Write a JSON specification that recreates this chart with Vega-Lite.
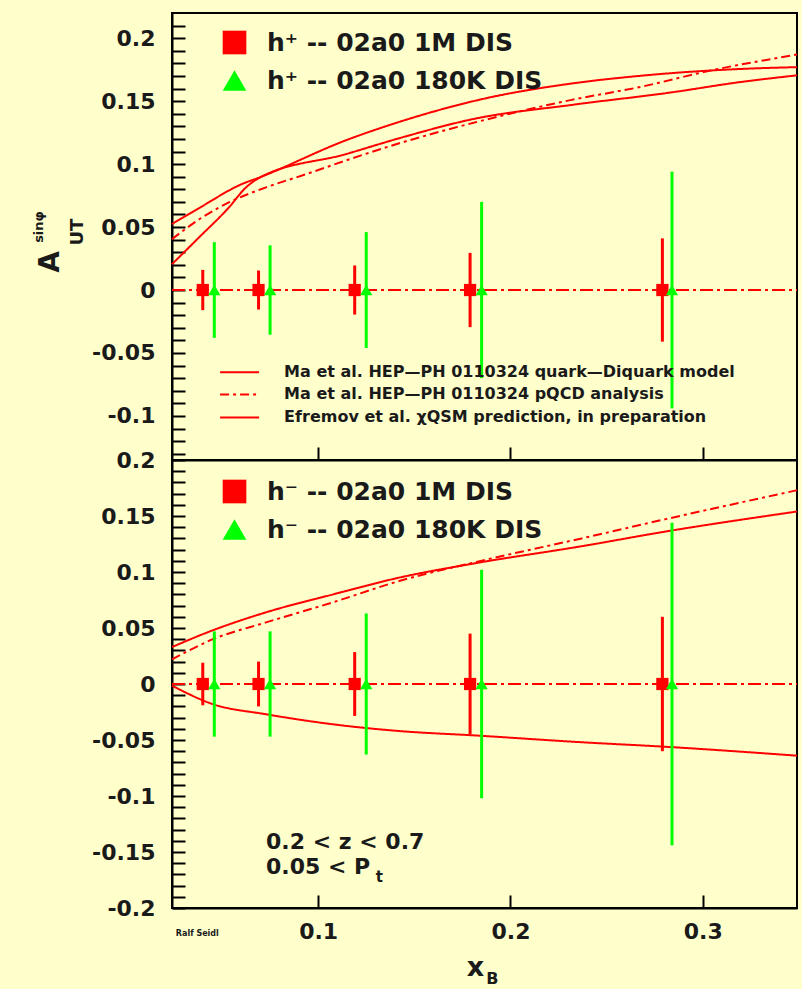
{
  "$schema": "https://vega.github.io/schema/vega-lite/v6.json",
  "background": "#FFFFCC",
  "padding": {"left": 31, "top": 12, "right": 4, "bottom": 0},
  "spacing": 0,
  "bounds": "flush",
  "config": {
    "view": {"stroke": "#000000", "strokeWidth": 2},
    "axis": {"domainColor": "#000000", "domainWidth": 2, "tickColor": "#000000", "tickWidth": 2, "grid": false, "labelFont": "DejaVu Sans", "labelFontWeight": "bold", "labelFontSize": 22, "labelColor": "#1a1a1a", "labelOverlap": false, "labelFlush": false, "title": null},
    "legend": {"labelFont": "DejaVu Sans", "labelFontWeight": "bold", "labelColor": "#1a1a1a", "labelLimit": 900, "padding": 0, "title": null},
    "text": {"font": "DejaVu Sans", "fontWeight": "bold", "color": "#1a1a1a"}
  },
  "resolve": {
    "scale": {"x": "independent", "y": "independent", "color": "independent", "shape": "independent", "stroke": "independent", "strokeDash": "independent"},
    "legend": {"color": "independent", "shape": "independent", "stroke": "independent", "strokeDash": "independent"}
  },
  "datasets": {
    "topCurves": [
      {"model": "Efremov et al. χQSM prediction, in preparation", "x": 0.024, "y": 0.0524},
      {"model": "Efremov et al. χQSM prediction, in preparation", "x": 0.038, "y": 0.065},
      {"model": "Efremov et al. χQSM prediction, in preparation", "x": 0.0609, "y": 0.0845},
      {"model": "Efremov et al. χQSM prediction, in preparation", "x": 0.0688, "y": 0.089},
      {"model": "Efremov et al. χQSM prediction, in preparation", "x": 0.1146, "y": 0.119},
      {"model": "Efremov et al. χQSM prediction, in preparation", "x": 0.1432, "y": 0.134},
      {"model": "Efremov et al. χQSM prediction, in preparation", "x": 0.1864, "y": 0.152},
      {"model": "Efremov et al. χQSM prediction, in preparation", "x": 0.2318, "y": 0.164},
      {"model": "Efremov et al. χQSM prediction, in preparation", "x": 0.2667, "y": 0.170},
      {"model": "Efremov et al. χQSM prediction, in preparation", "x": 0.3188, "y": 0.1755},
      {"model": "Efremov et al. χQSM prediction, in preparation", "x": 0.349, "y": 0.177},
      {"model": "Ma et al. HEP—PH 0110324 pQCD  analysis", "x": 0.024, "y": 0.0404},
      {"model": "Ma et al. HEP—PH 0110324 pQCD  analysis", "x": 0.038, "y": 0.056},
      {"model": "Ma et al. HEP—PH 0110324 pQCD  analysis", "x": 0.0536, "y": 0.0696},
      {"model": "Ma et al. HEP—PH 0110324 pQCD  analysis", "x": 0.0729, "y": 0.0815},
      {"model": "Ma et al. HEP—PH 0110324 pQCD  analysis", "x": 0.0938, "y": 0.092},
      {"model": "Ma et al. HEP—PH 0110324 pQCD  analysis", "x": 0.1146, "y": 0.103},
      {"model": "Ma et al. HEP—PH 0110324 pQCD  analysis", "x": 0.1432, "y": 0.117},
      {"model": "Ma et al. HEP—PH 0110324 pQCD  analysis", "x": 0.1813, "y": 0.133},
      {"model": "Ma et al. HEP—PH 0110324 pQCD  analysis", "x": 0.2318, "y": 0.151},
      {"model": "Ma et al. HEP—PH 0110324 pQCD  analysis", "x": 0.2667, "y": 0.161},
      {"model": "Ma et al. HEP—PH 0110324 pQCD  analysis", "x": 0.3047, "y": 0.1745},
      {"model": "Ma et al. HEP—PH 0110324 pQCD  analysis", "x": 0.349, "y": 0.187},
      {"model": "Ma et al. HEP—PH 0110324 quark—Diquark model", "x": 0.024, "y": 0.0205},
      {"model": "Ma et al. HEP—PH 0110324 quark—Diquark model", "x": 0.038, "y": 0.0417},
      {"model": "Ma et al. HEP—PH 0110324 quark—Diquark model", "x": 0.0536, "y": 0.0656},
      {"model": "Ma et al. HEP—PH 0110324 quark—Diquark model", "x": 0.0625, "y": 0.0815},
      {"model": "Ma et al. HEP—PH 0110324 quark—Diquark model", "x": 0.0693, "y": 0.089},
      {"model": "Ma et al. HEP—PH 0110324 quark—Diquark model", "x": 0.1146, "y": 0.108},
      {"model": "Ma et al. HEP—PH 0110324 quark—Diquark model", "x": 0.1432, "y": 0.121},
      {"model": "Ma et al. HEP—PH 0110324 quark—Diquark model", "x": 0.1813, "y": 0.136},
      {"model": "Ma et al. HEP—PH 0110324 quark—Diquark model", "x": 0.2318, "y": 0.147},
      {"model": "Ma et al. HEP—PH 0110324 quark—Diquark model", "x": 0.2839, "y": 0.157},
      {"model": "Ma et al. HEP—PH 0110324 quark—Diquark model", "x": 0.3188, "y": 0.165},
      {"model": "Ma et al. HEP—PH 0110324 quark—Diquark model", "x": 0.349, "y": 0.1705}
    ],
    "botCurves": [
      {"model": "quark-diquark", "x": 0.024, "y": 0.033},
      {"model": "quark-diquark", "x": 0.0453, "y": 0.048},
      {"model": "quark-diquark", "x": 0.0729, "y": 0.064},
      {"model": "quark-diquark", "x": 0.1078, "y": 0.080},
      {"model": "quark-diquark", "x": 0.1422, "y": 0.095},
      {"model": "quark-diquark", "x": 0.1823, "y": 0.108},
      {"model": "quark-diquark", "x": 0.237, "y": 0.123},
      {"model": "quark-diquark", "x": 0.2802, "y": 0.136},
      {"model": "quark-diquark", "x": 0.349, "y": 0.154},
      {"model": "pQCD", "x": 0.024, "y": 0.022},
      {"model": "pQCD", "x": 0.0453, "y": 0.040},
      {"model": "pQCD", "x": 0.0729, "y": 0.055},
      {"model": "pQCD", "x": 0.1078, "y": 0.073},
      {"model": "pQCD", "x": 0.1422, "y": 0.092},
      {"model": "pQCD", "x": 0.1823, "y": 0.109},
      {"model": "pQCD", "x": 0.237, "y": 0.130},
      {"model": "pQCD", "x": 0.2802, "y": 0.147},
      {"model": "pQCD", "x": 0.349, "y": 0.173},
      {"model": "chiQSM", "x": 0.024, "y": -0.0015},
      {"model": "chiQSM", "x": 0.0453, "y": -0.018},
      {"model": "chiQSM", "x": 0.0729, "y": -0.027},
      {"model": "chiQSM", "x": 0.1078, "y": -0.036},
      {"model": "chiQSM", "x": 0.1422, "y": -0.042},
      {"model": "chiQSM", "x": 0.1823, "y": -0.046},
      {"model": "chiQSM", "x": 0.237, "y": -0.052},
      {"model": "chiQSM", "x": 0.2802, "y": -0.056},
      {"model": "chiQSM", "x": 0.349, "y": -0.064}
    ],
    "topPoints": [
      {"series": "h⁺ -- 02a0 1M DIS", "x": 0.040, "y": 0, "lo": -0.016, "hi": 0.016},
      {"series": "h⁺ -- 02a0 1M DIS", "x": 0.069, "y": 0, "lo": -0.0155, "hi": 0.0155},
      {"series": "h⁺ -- 02a0 1M DIS", "x": 0.119, "y": 0, "lo": -0.0195, "hi": 0.0195},
      {"series": "h⁺ -- 02a0 1M DIS", "x": 0.179, "y": 0, "lo": -0.0295, "hi": 0.0295},
      {"series": "h⁺ -- 02a0 1M DIS", "x": 0.279, "y": 0, "lo": -0.041, "hi": 0.041},
      {"series": "h⁺ -- 02a0 180K DIS", "x": 0.046, "y": 0, "lo": -0.038, "hi": 0.038},
      {"series": "h⁺ -- 02a0 180K DIS", "x": 0.075, "y": 0, "lo": -0.0355, "hi": 0.0355},
      {"series": "h⁺ -- 02a0 180K DIS", "x": 0.125, "y": 0, "lo": -0.046, "hi": 0.046},
      {"series": "h⁺ -- 02a0 180K DIS", "x": 0.185, "y": 0, "lo": -0.070, "hi": 0.070},
      {"series": "h⁺ -- 02a0 180K DIS", "x": 0.284, "y": 0, "lo": -0.094, "hi": 0.094}
    ],
    "botPoints": [
      {"series": "h⁻ -- 02a0 1M DIS", "x": 0.040, "y": 0, "lo": -0.019, "hi": 0.019},
      {"series": "h⁻ -- 02a0 1M DIS", "x": 0.069, "y": 0, "lo": -0.020, "hi": 0.020},
      {"series": "h⁻ -- 02a0 1M DIS", "x": 0.119, "y": 0, "lo": -0.0285, "hi": 0.0285},
      {"series": "h⁻ -- 02a0 1M DIS", "x": 0.179, "y": 0, "lo": -0.045, "hi": 0.045},
      {"series": "h⁻ -- 02a0 1M DIS", "x": 0.279, "y": 0, "lo": -0.060, "hi": 0.060},
      {"series": "h⁻ -- 02a0 180K DIS", "x": 0.046, "y": 0, "lo": -0.047, "hi": 0.047},
      {"series": "h⁻ -- 02a0 180K DIS", "x": 0.075, "y": 0, "lo": -0.047, "hi": 0.047},
      {"series": "h⁻ -- 02a0 180K DIS", "x": 0.125, "y": 0, "lo": -0.063, "hi": 0.063},
      {"series": "h⁻ -- 02a0 180K DIS", "x": 0.185, "y": 0, "lo": -0.102, "hi": 0.102},
      {"series": "h⁻ -- 02a0 180K DIS", "x": 0.284, "y": 0, "lo": -0.144, "hi": 0.144}
    ]
  },
  "vconcat": [
    {
      "width": 625,
      "height": 447,
      "layer": [
        {
          "data": {"values": [{}]},
          "mark": {"type": "rule", "color": "#ff0000", "strokeWidth": 2, "strokeDash": [13, 4, 3, 4]},
          "encoding": {
            "x": {"datum": 0.024, "type": "quantitative", "scale": {"domain": [0.024, 0.349], "nice": false, "zero": false},
              "axis": {"values": [0.1, 0.2, 0.3], "labels": false, "tickSize": -13, "tickCount": 50, "labelOverlap": false, "encode": {"ticks": {"y2": {"value": -13}}}}},
            "x2": {"datum": 0.349},
            "y": {"datum": 0, "type": "quantitative", "scale": {"domain": [-0.135, 0.22], "nice": false, "zero": false},
              "axis": {
                "values": [-0.13,-0.12,-0.11,-0.1,-0.09,-0.08,-0.07,-0.06,-0.05,-0.04,-0.03,-0.02,-0.01,0,0.01,0.02,0.03,0.04,0.05,0.06,0.07,0.08,0.09,0.1,0.11,0.12,0.13,0.14,0.15,0.16,0.17,0.18,0.19,0.2,0.21],
                "tickCount": 200, "tickSize": -13, "labelPadding": 30, "labelOverlap": false, "labelFlush": false,
                "labelExpr": "round(datum.value*100) % 5 === 0 ? replace(format(datum.value, '.2~f'), '−', '-') : ''",
                "encode": {"ticks": {"x2": {"value": {"expr": "round(datum.value*100) % 5 === 0 ? 13 : 7"}}}}
              }
            }
          }
        },
        {
          "data": {"name": "topCurves"},
          "mark": {"type": "line", "color": "#ff0000", "strokeWidth": 2, "interpolate": "monotone"},
          "encoding": {
            "x": {"field": "x", "type": "quantitative"},
            "y": {"field": "y", "type": "quantitative"},
            "strokeDash": {"field": "model", "type": "nominal",
              "scale": {"domain": ["Ma et al. HEP—PH 0110324 quark—Diquark model", "Ma et al. HEP—PH 0110324 pQCD  analysis", "Efremov et al. χQSM prediction, in preparation"], "range": [[1, 0], [9, 4, 3, 4], [1, 0]]},
              "legend": null
            }
          }
        },
        {
          "data": {"name": "topPoints"},
          "mark": {"type": "point", "filled": true, "size": 150, "opacity": 1},
          "encoding": {
            "x": {"field": "x", "type": "quantitative"},
            "y": {"field": "y", "type": "quantitative"},
            "color": {"field": "series", "type": "nominal", "scale": {"domain": ["h⁺ -- 02a0 1M DIS", "h⁺ -- 02a0 180K DIS"], "range": ["#ff0000", "#00ff00"]},
              "legend": {"orient": "none", "legendX": 50, "legendY": 17, "symbolSize": 560, "labelFontSize": 25, "labelOffset": 20, "rowPadding": 12, "symbolStrokeWidth": 0}},
            "shape": {"field": "series", "type": "nominal", "scale": {"domain": ["h⁺ -- 02a0 1M DIS", "h⁺ -- 02a0 180K DIS"], "range": ["square", "triangle-up"]},
              "legend": {"orient": "none", "legendX": 50, "legendY": 17, "symbolSize": 560, "labelFontSize": 25, "labelOffset": 20, "rowPadding": 12, "symbolStrokeWidth": 0}}
          }
        },
        {
          "data": {"name": "topPoints"},
          "mark": {"type": "rule", "strokeWidth": 3},
          "encoding": {
            "x": {"field": "x", "type": "quantitative"},
            "y": {"field": "lo", "type": "quantitative"},
            "y2": {"field": "hi"},
            "stroke": {"field": "series", "type": "nominal", "scale": {"domain": ["h⁺ -- 02a0 1M DIS", "h⁺ -- 02a0 180K DIS"], "range": ["#ff0000", "#00ff00"]}, "legend": null}
          }
        },
        {
          "data": {"values": [{}]},
          "mark": {"type": "rule", "color": "#ff0000", "strokeWidth": 2},
          "encoding": {"x": {"datum": 0.049, "type": "quantitative"}, "x2": {"datum": 0.0693}, "y": {"datum": -0.0653, "type": "quantitative"}}
        },
        {
          "data": {"values": [{}]},
          "mark": {"type": "rule", "color": "#ff0000", "strokeWidth": 2, "strokeDash": [9, 4, 3, 4]},
          "encoding": {"x": {"datum": 0.049, "type": "quantitative"}, "x2": {"datum": 0.0693}, "y": {"datum": -0.0829, "type": "quantitative"}}
        },
        {
          "data": {"values": [{}]},
          "mark": {"type": "rule", "color": "#ff0000", "strokeWidth": 2},
          "encoding": {"x": {"datum": 0.049, "type": "quantitative"}, "x2": {"datum": 0.0693}, "y": {"datum": -0.1012, "type": "quantitative"}}
        },
        {
          "data": {"values": [{}]},
          "mark": {"type": "text", "text": "Ma et al. HEP—PH 0110324 quark—Diquark model", "fontSize": 16, "align": "left", "baseline": "middle"},
          "encoding": {"x": {"datum": 0.0823, "type": "quantitative"}, "y": {"datum": -0.0653, "type": "quantitative"}}
        },
        {
          "data": {"values": [{}]},
          "mark": {"type": "text", "text": "Ma et al. HEP—PH 0110324 pQCD  analysis", "fontSize": 16, "align": "left", "baseline": "middle"},
          "encoding": {"x": {"datum": 0.0823, "type": "quantitative"}, "y": {"datum": -0.0829, "type": "quantitative"}}
        },
        {
          "data": {"values": [{}]},
          "mark": {"type": "text", "text": "Efremov et al. χQSM prediction, in preparation", "fontSize": 16, "align": "left", "baseline": "middle"},
          "encoding": {"x": {"datum": 0.0823, "type": "quantitative"}, "y": {"datum": -0.1012, "type": "quantitative"}}
        },
        {
          "data": {"values": [{}]},
          "mark": {"type": "text", "text": "A", "angle": 270, "fontSize": 28, "align": "center", "baseline": "middle"},
          "encoding": {"x": {"datum": -0.039, "type": "quantitative"}, "y": {"datum": 0.0223, "type": "quantitative"}}
        },
        {
          "data": {"values": [{}]},
          "mark": {"type": "text", "text": "UT", "angle": 270, "fontSize": 18, "align": "center", "baseline": "middle"},
          "encoding": {"x": {"datum": -0.025, "type": "quantitative"}, "y": {"datum": 0.046, "type": "quantitative"}}
        },
        {
          "data": {"values": [{}]},
          "mark": {"type": "text", "text": "sinφ", "angle": 270, "fontSize": 13, "align": "center", "baseline": "middle"},
          "encoding": {"x": {"datum": -0.0453, "type": "quantitative"}, "y": {"datum": 0.050, "type": "quantitative"}}
        }
      ]
    },
    {
      "width": 625,
      "height": 448,
      "layer": [
        {
          "data": {"values": [{}]},
          "mark": {"type": "rule", "color": "#ff0000", "strokeWidth": 2, "strokeDash": [13, 4, 3, 4]},
          "encoding": {
            "x": {"datum": 0.024, "type": "quantitative", "scale": {"domain": [0.024, 0.349], "nice": false, "zero": false},
              "axis": {"values": [0.1, 0.2, 0.3], "tickSize": -13, "tickCount": 50, "labelPadding": 26, "labelOverlap": false, "labelFlush": false, "labelExpr": "format(datum.value, '.1f')", "encode": {"ticks": {"y2": {"value": -13}}}}},
            "x2": {"datum": 0.349},
            "y": {"datum": 0, "type": "quantitative", "scale": {"domain": [-0.2, 0.2], "nice": false, "zero": false},
              "axis": {
                "values": [-0.2,-0.19,-0.18,-0.17,-0.16,-0.15,-0.14,-0.13,-0.12,-0.11,-0.1,-0.09,-0.08,-0.07,-0.06,-0.05,-0.04,-0.03,-0.02,-0.01,0,0.01,0.02,0.03,0.04,0.05,0.06,0.07,0.08,0.09,0.1,0.11,0.12,0.13,0.14,0.15,0.16,0.17,0.18,0.19,0.2],
                "tickCount": 200, "tickSize": -13, "labelPadding": 30, "labelOverlap": false, "labelFlush": false,
                "labelExpr": "round(datum.value*100) % 5 === 0 ? replace(format(datum.value, '.2~f'), '−', '-') : ''",
                "encode": {"ticks": {"x2": {"value": {"expr": "round(datum.value*100) % 5 === 0 ? 13 : 7"}}}}
              }
            }
          }
        },
        {
          "data": {"name": "botCurves"},
          "mark": {"type": "line", "color": "#ff0000", "strokeWidth": 2, "interpolate": "monotone"},
          "encoding": {
            "x": {"field": "x", "type": "quantitative"},
            "y": {"field": "y", "type": "quantitative"},
            "strokeDash": {"field": "model", "type": "nominal",
              "scale": {"domain": ["quark-diquark", "pQCD", "chiQSM"], "range": [[1, 0], [9, 4, 3, 4], [1, 0]]},
              "legend": null
            }
          }
        },
        {
          "data": {"name": "botPoints"},
          "mark": {"type": "point", "filled": true, "size": 150, "opacity": 1},
          "encoding": {
            "x": {"field": "x", "type": "quantitative"},
            "y": {"field": "y", "type": "quantitative"},
            "color": {"field": "series", "type": "nominal", "scale": {"domain": ["h⁻ -- 02a0 1M DIS", "h⁻ -- 02a0 180K DIS"], "range": ["#ff0000", "#00ff00"]},
              "legend": {"orient": "none", "legendX": 50, "legendY": 19, "symbolSize": 560, "labelFontSize": 25, "labelOffset": 20, "rowPadding": 12, "symbolStrokeWidth": 0}},
            "shape": {"field": "series", "type": "nominal", "scale": {"domain": ["h⁻ -- 02a0 1M DIS", "h⁻ -- 02a0 180K DIS"], "range": ["square", "triangle-up"]},
              "legend": {"orient": "none", "legendX": 50, "legendY": 19, "symbolSize": 560, "labelFontSize": 25, "labelOffset": 20, "rowPadding": 12, "symbolStrokeWidth": 0}}
          }
        },
        {
          "data": {"name": "botPoints"},
          "mark": {"type": "rule", "strokeWidth": 3},
          "encoding": {
            "x": {"field": "x", "type": "quantitative"},
            "y": {"field": "lo", "type": "quantitative"},
            "y2": {"field": "hi"},
            "stroke": {"field": "series", "type": "nominal", "scale": {"domain": ["h⁻ -- 02a0 1M DIS", "h⁻ -- 02a0 180K DIS"], "range": ["#ff0000", "#00ff00"]}, "legend": null}
          }
        },
        {
          "data": {"values": [{}]},
          "mark": {"type": "text", "text": "0.2 < z < 0.7", "fontSize": 22, "align": "left", "baseline": "middle"},
          "encoding": {"x": {"datum": 0.0729, "type": "quantitative"}, "y": {"datum": -0.141, "type": "quantitative"}}
        },
        {
          "data": {"values": [{}]},
          "mark": {"type": "text", "text": "0.05 < P", "fontSize": 22, "align": "left", "baseline": "middle"},
          "encoding": {"x": {"datum": 0.0729, "type": "quantitative"}, "y": {"datum": -0.163, "type": "quantitative"}}
        },
        {
          "data": {"values": [{}]},
          "mark": {"type": "text", "text": "t", "fontSize": 15, "align": "left", "baseline": "middle"},
          "encoding": {"x": {"datum": 0.13, "type": "quantitative"}, "y": {"datum": -0.172, "type": "quantitative"}}
        },
        {
          "data": {"values": [{}]},
          "mark": {"type": "text", "text": "Ralf Seidl", "fontSize": 8, "align": "left", "baseline": "middle"},
          "encoding": {"x": {"datum": 0.026, "type": "quantitative"}, "y": {"datum": -0.2232, "type": "quantitative"}}
        },
        {
          "data": {"values": [{}]},
          "mark": {"type": "text", "text": "x", "fontSize": 27, "align": "center", "baseline": "middle"},
          "encoding": {"x": {"datum": 0.1818, "type": "quantitative"}, "y": {"datum": -0.2535, "type": "quantitative"}}
        },
        {
          "data": {"values": [{}]},
          "mark": {"type": "text", "text": "B", "fontSize": 16, "align": "center", "baseline": "middle"},
          "encoding": {"x": {"datum": 0.1906, "type": "quantitative"}, "y": {"datum": -0.2635, "type": "quantitative"}}
        }
      ]
    }
  ]
}
